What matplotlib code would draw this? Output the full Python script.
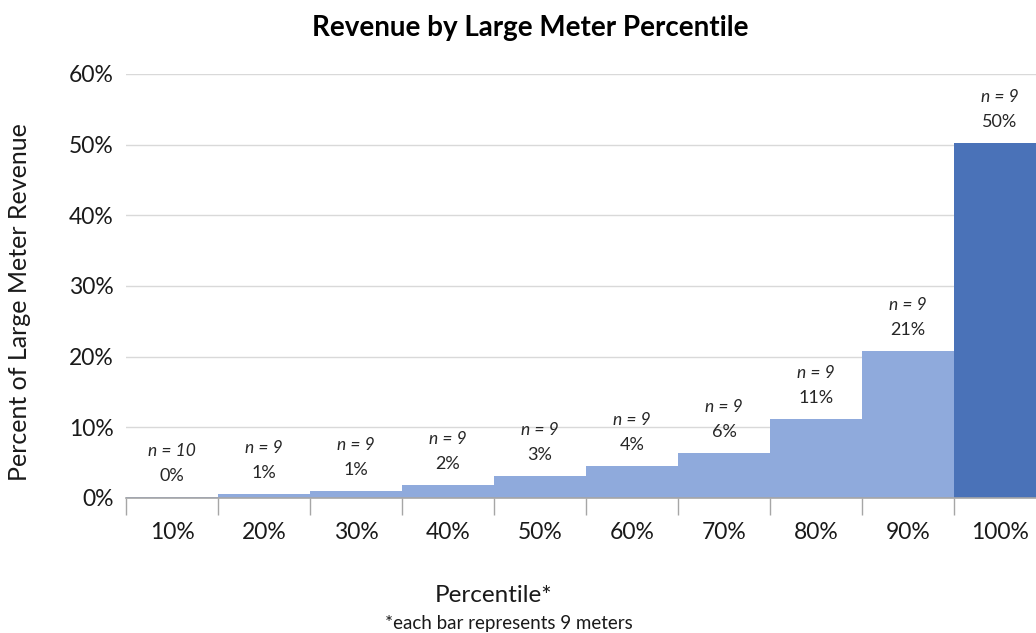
import matplotlib.pyplot as plt
import numpy as np

percentiles = ["10%", "20%", "30%", "40%", "50%", "60%", "70%", "80%", "90%", "100%"]
revenue_share = [0.2, 0.6, 1.0, 1.9, 3.1, 4.5, 6.4, 11.2, 20.8, 50.2]
value_labels = ["0%", "1%", "1%", "2%", "3%", "4%", "6%", "11%", "21%", "50%"]
meter_counts = [10, 9, 9, 9, 9, 9, 9, 9, 9, 9]

plt.rcParams['font.family'] = ['Lato', 'DejaVu Sans']

fig = plt.figure(figsize=(10.36, 6.33), dpi=100)
W, H = 1036, 633
ax = fig.add_axes([126 / W, (H - 498) / H, 920 / W, (498 - 74) / H])

x = np.arange(len(percentiles))
colors = ["#8FAADC"] * (len(percentiles) - 1) + ["#4A72B8"]
ax.bar(x, revenue_share, width=1.0, color=colors, edgecolor="none", zorder=2)

for xi, v, lab, n in zip(x, revenue_share, value_labels, meter_counts):
    ax.annotate(lab, (xi, v), xytext=(0, 15), textcoords="offset points",
                ha="center", va="center", fontsize=13, color="#262626")
    ax.annotate(f"n = {n}", (xi, v), xytext=(0, 33), textcoords="offset points",
                ha="center", va="center", fontsize=12.5, color="#262626", style="italic")

ax.set_xlim(-0.5, 9.5)
ax.set_ylim(0, 60)
ax.set_yticks(np.arange(0, 61, 10))
ax.set_yticklabels([f"{t}%" for t in range(0, 61, 10)])
ax.yaxis.grid(True, color="#D9D9D9", linewidth=1, zorder=0)
ax.set_axisbelow(True)

ax.set_xticks(np.arange(-0.5, 9.6, 1.0))
ax.set_xticklabels([])
ax.set_xticks(x, minor=True)
ax.set_xticklabels(percentiles, minor=True)
ax.tick_params(axis="x", which="major", length=12, width=1, color="#A6A6A6", direction="out")
ax.tick_params(axis="x", which="minor", length=0, pad=17, labelsize=16.5, labelcolor="#1a1a1a")
ax.tick_params(axis="y", length=0, pad=9, labelsize=16.5, labelcolor="#1a1a1a")

for s in ["top", "right", "left"]:
    ax.spines[s].set_visible(False)
ax.spines["bottom"].set_color("#A6A6A6")
ax.spines["bottom"].set_linewidth(1.2)

fig.text(530 / W, 1 - 28 / H, "Revenue by Large Meter Percentile", ha="center", va="center",
         fontsize=20, fontweight="bold", color="#000000")
fig.text(20 / W, 1 - 302 / H, "Percent of Large Meter Revenue", rotation=90, ha="center",
         va="center", fontsize=18, color="#1a1a1a")
fig.text(494 / W, 1 - 596 / H, "Percentile*", ha="center", va="center", fontsize=17.5, color="#1a1a1a")
fig.text(509 / W, 1 - 623 / H, "*each bar represents 9 meters", ha="center", va="center",
         fontsize=13.5, color="#1a1a1a")

fig.savefig("out.png", dpi=100)
